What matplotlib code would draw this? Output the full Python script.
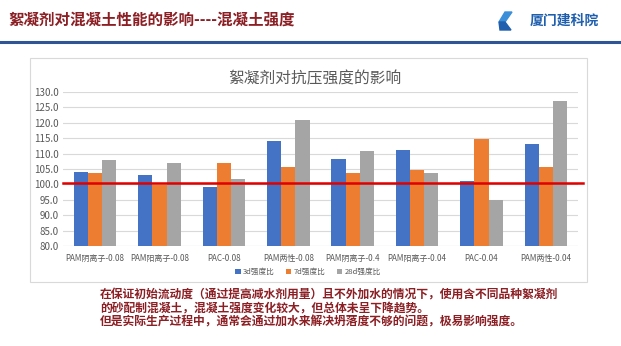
import matplotlib.pyplot as plt
import numpy as np
from matplotlib.patches import Rectangle, Polygon

plt.rcParams["font.family"] = ["Noto Sans CJK SC", "DejaVu Sans"]

categories = ["PAM阴离子-0.08", "PAM阳离子-0.08", "PAC-0.08", "PAM两性-0.08",
              "PAM阴离子-0.4", "PAM阳离子-0.04", "PAC-0.04", "PAM两性-0.04"]
series_names = ["3d强度比", "7d强度比", "28d强度比"]
d3 = [104.0, 103.0, 99.2, 114.2, 108.2, 111.2, 101.2, 113.1]
d7 = [103.8, 99.8, 106.8, 105.8, 103.7, 104.8, 114.9, 105.8]
d28 = [107.8, 106.8, 101.8, 121.0, 111.0, 103.8, 94.8, 127.1]
colors = ["#4472C4", "#ED7D31", "#A5A5A5"]
ref_line = 100.4
yticks = np.arange(80, 131, 5)

header = "絮凝剂对混凝土性能的影响----混凝土强度"
chart_title = "絮凝剂对抗压强度的影响"
notes = [
    "在保证初始流动度（通过提高减水剂用量）且不外加水的情况下，使用含不同品种絮凝剂",
    "的砂配制混凝土，混凝土强度变化较大，但总体未呈下降趋势。",
    "但是实际生产过程中，通常会通过加水来解决坍落度不够的问题，极易影响强度。",
]

W, H = 621, 346
fig = plt.figure(figsize=(W / 100, H / 100), dpi=100)
fig.patch.set_facecolor("white")

# header
fig.text(8 / W, 1 - 20 / H, header, fontsize=11.2, fontweight="bold",
         color="#8B1F24", va="center", ha="left")
fig.add_artist(plt.Line2D([0, 1], [1 - 42 / H, 1 - 42 / H], color="#2F5597",
                          lw=2.2, transform=fig.transFigure))
# logo
fig.add_artist(Polygon([(505 / W, 1 - 12 / H), (512 / W, 1 - 12 / H), (505 / W, 1 - 22 / H),
                        (499 / W, 1 - 22 / H)], closed=True, color="#3A8FD8",
                       transform=fig.transFigure))
fig.add_artist(Polygon([(499 / W, 1 - 22 / H), (505 / W, 1 - 22 / H), (511 / W, 1 - 30 / H),
                        (500 / W, 1 - 30 / H)], closed=True, color="#1F5FAD",
                       transform=fig.transFigure))
fig.text(530 / W, 1 - 21 / H, "厦门建科院", fontsize=10, fontweight="bold",
         color="#1F5FAD", va="center", ha="left")

# chart box
fig.add_artist(Rectangle((30 / W, 1 - 282 / H), 557 / W, 224 / H, fill=False,
                         edgecolor="#D9D9D9", lw=0.8, transform=fig.transFigure))

ax = fig.add_axes([63 / W, 1 - 246 / H, 515 / W, 154 / H])
x = np.arange(len(categories))
bw = 0.22
for i, (vals, c, name) in enumerate(zip([d3, d7, d28], colors, series_names)):
    ax.bar(x + (i - 1) * bw, [v - 80 for v in vals], bw, bottom=80, color=c,
           label=name, zorder=2)

ax.set_ylim(80, 130)
ax.set_xlim(-0.5, len(categories) - 0.5)
ax.set_yticks(yticks)
ax.set_yticklabels([f"{t:.1f}" for t in yticks])
ax.set_xticks(x)
ax.set_xticklabels(categories)
ax.tick_params(axis="both", length=0, labelsize=7, colors="#595959", pad=3)
ax.tick_params(axis="x", pad=6, labelsize=5.8)
ax.grid(axis="y", color="#D9D9D9", lw=0.8, zorder=0)
for s in ax.spines.values():
    s.set_visible(False)
ax.axhline(80, color="#D9D9D9", lw=0.8, zorder=1)
ax.plot([-0.5, len(categories) - 0.42], [ref_line, ref_line], color="#E00000",
        lw=1.8, zorder=3, clip_on=False)

fig.text(315 / W, 1 - 79 / H, chart_title, fontsize=11.3, color="#595959",
         ha="center", va="center")

leg = ax.legend(loc="center", bbox_to_anchor=(308 / W, 1 - 272 / H),
                bbox_transform=fig.transFigure, ncol=3, frameon=False,
                fontsize=5.5, handlelength=0.7, handleheight=0.7,
                handletextpad=0.3, columnspacing=1.5)
for t in leg.get_texts():
    t.set_color("#595959")

for k, line in enumerate(notes):
    fig.text(100 / W, 1 - (294 + k * 14) / H, line, fontsize=8.5,
             fontweight="bold", color="#8B1F24", va="center", ha="left")

fig.savefig("out.png", dpi=100)
